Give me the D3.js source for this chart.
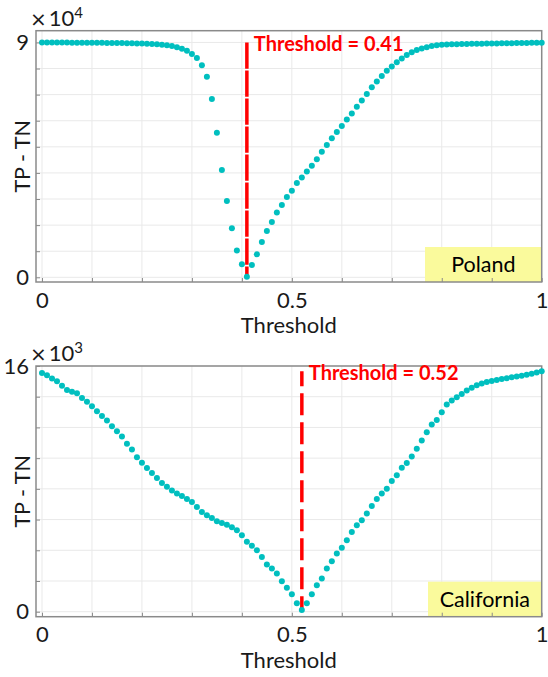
<!DOCTYPE html>
<html>
<head>
<meta charset="utf-8">
<script src="https://cdn.jsdelivr.net/npm/d3@7"></script>
<style>
  html, body { margin: 0; padding: 0; background: #ffffff; }
  svg { display: block; font-family: Lato, "Open Sans", sans-serif; }
</style>
</head>
<body>
<svg id="chart" width="548" height="677"></svg>
<script>
// Decision thresholds swept from 0 to 1 in steps of 0.01
const thresholds = d3.range(101).map(i => i / 100);

// TP - TN for Poland, in units of 10^4
const polandValues = [
  9.00, 9.00, 9.00, 9.00, 9.00, 9.00, 8.99, 8.99, 8.99, 8.99, 8.99,
  8.99, 8.99, 8.98, 8.98, 8.98, 8.98, 8.97, 8.97, 8.96, 8.96,
  8.95, 8.94, 8.93, 8.91,
  8.89, 8.86, 8.82, 8.76, 8.68, 8.56, 8.40, 8.13, 7.69, 6.83, 5.54,
  4.11, 2.92, 1.88, 1.03, 0.50, 0.02,
  0.47, 0.88, 1.35, 1.77, 2.12, 2.48, 2.77, 3.08, 3.32, 3.61, 3.82, 4.05, 4.27,
  4.52, 4.81, 5.07, 5.33, 5.57, 5.80, 6.05, 6.28, 6.54, 6.78,
  7.02, 7.28, 7.50, 7.71, 7.92, 8.08, 8.24, 8.38, 8.52, 8.62,
  8.71, 8.77, 8.82, 8.86, 8.89, 8.91,
  8.92, 8.93, 8.93, 8.94, 8.94, 8.95, 8.95, 8.95, 8.96, 8.96,
  8.96, 8.97, 8.97, 8.97, 8.98, 8.98, 8.98, 8.99, 8.99, 8.99
];

// TP - TN for California, in units of 10^3
const californiaValues = [
  15.55, 15.39, 15.19, 15.00, 14.72, 14.44, 14.33, 14.22, 13.92, 13.68,
  13.38, 13.05, 12.75, 12.45, 12.08, 11.75, 11.41, 10.94, 10.56, 10.06,
  9.70, 9.35, 9.03, 8.70, 8.38, 8.14, 7.90, 7.69, 7.53, 7.34,
  7.14, 6.82, 6.49, 6.28, 6.10, 5.89, 5.78, 5.67, 5.50, 5.31,
  4.98, 4.55, 4.29, 4.01, 3.57, 3.08, 2.82, 2.49, 1.99, 1.56,
  1.13, 0.55, 0.11,
  0.55, 1.13, 1.73, 2.17, 2.82, 3.29, 3.79, 4.16, 4.66, 5.19,
  5.63, 5.95, 6.39, 6.88, 7.34, 7.69, 8.01, 8.51, 8.88, 9.38,
  9.68, 10.11, 10.61, 11.15, 11.69, 12.19, 12.49, 12.99, 13.49,
  13.75, 13.96, 14.18, 14.40, 14.58, 14.74, 14.86, 14.95, 15.02, 15.09,
  15.15, 15.21, 15.27, 15.32, 15.37, 15.43, 15.50, 15.58, 15.66
];

// Optimal thresholds marked on each panel
const polandThreshold = 0.41;
const californiaThreshold = 0.52;

// Axis ticks
const xGridTicks = d3.range(11).map(i => i / 10);
const xLabelTicks = [0, 0.5, 1];
const polandYGrid = d3.range(10);          // 0..9 (×10^4)
const polandYLabels = [0, 9];
const californiaYGrid = d3.range(0, 17, 2); // 0..16 (×10^3)
const californiaYLabels = [0, 16];

const panels = [
  {
    region: "Poland", values: polandValues, threshold: polandThreshold,
    exponent: "4", yGrid: polandYGrid, yLabels: polandYLabels,
    yDomain: [-0.18, 9.45],
    box: { left: 36, right: 541.7, top: 30.7, bottom: 282 },
    labelW: 116.7,
    dash: "26.3,1.7", dashOffset: 0
  },
  {
    region: "California", values: californiaValues, threshold: californiaThreshold,
    exponent: "3", yGrid: californiaYGrid, yLabels: californiaYLabels,
    yDomain: [-0.325, 16],
    box: { left: 36, right: 541.7, top: 366, bottom: 616.7 },
    labelW: 113.7,
    dash: "22,7", dashOffset: 7
  }
];

const svg = d3.select("#chart");
const pointColor = "#00bfbf";
const frameColor = "#8a8a8a";
const textColor = "#1a1a1a";

function near(list, d) { return list.some(v => Math.abs(v - d) < 1e-9); }

function drawPanel(p) {
  const b = p.box;
  const x = d3.scaleLinear().domain([-0.012, 1]).range([b.left, b.right]);
  const y = d3.scaleLinear().domain(p.yDomain).range([b.bottom, b.top]);
  const g = svg.append("g");

  // background grid
  g.append("g").selectAll("line").data(xGridTicks).join("line")
    .attr("x1", d => x(d)).attr("x2", d => x(d))
    .attr("y1", b.top).attr("y2", b.bottom)
    .attr("stroke", "#e9e9e9").attr("stroke-width", 1);
  g.append("g").selectAll("line").data(p.yGrid).join("line")
    .attr("x1", b.left).attr("x2", b.right)
    .attr("y1", d => y(d)).attr("y2", d => y(d))
    .attr("stroke", "#e9e9e9").attr("stroke-width", 1);

  // region label box in the lower-right corner
  const boxH = 35;
  g.append("rect")
    .attr("x", b.right - p.labelW).attr("y", b.bottom - boxH)
    .attr("width", p.labelW).attr("height", boxH)
    .attr("fill", "#fafa9c");
  g.append("text")
    .attr("x", b.right - p.labelW / 2).attr("y", b.bottom - 10)
    .attr("text-anchor", "middle")
    .attr("font-size", 21.5).attr("fill", "#000")
    .text(p.region);

  // axes with inward ticks
  const yAxis = d3.axisLeft(y).tickValues(p.yGrid).tickSize(-4).tickPadding(7)
    .tickFormat(d => near(p.yLabels, d) ? String(d) : "");
  const yg = g.append("g").attr("transform", `translate(${b.left},0)`).call(yAxis);
  const xAxis = d3.axisBottom(x).tickValues(xGridTicks).tickSize(-4).tickPadding(10)
    .tickFormat(d => near(xLabelTicks, d) ? String(d) : "");
  const xg = g.append("g").attr("transform", `translate(0,${b.bottom})`).call(xAxis);
  [yg, xg].forEach(a => {
    a.select(".domain").remove();
    a.selectAll(".tick line").attr("stroke", frameColor);
    a.selectAll(".tick text").attr("font-size", 22).attr("fill", textColor)
      .attr("font-family", "Lato, 'Open Sans', sans-serif");
  });

  // frame
  g.append("rect")
    .attr("x", b.left).attr("y", b.top)
    .attr("width", b.right - b.left).attr("height", b.bottom - b.top)
    .attr("fill", "none").attr("stroke", frameColor).attr("stroke-width", 1.5);

  // threshold marker
  const yMax = d3.max(p.values), yMin = d3.min(p.values);
  g.append("line")
    .attr("x1", x(p.threshold)).attr("x2", x(p.threshold))
    .attr("y1", y(yMax)).attr("y2", y(yMin))
    .attr("stroke", "#ff0000").attr("stroke-width", 3.5)
    .attr("stroke-dasharray", p.dash).attr("stroke-dashoffset", p.dashOffset);

  // data points
  g.append("g").selectAll("circle").data(p.values).join("circle")
    .attr("cx", (d, i) => x(thresholds[i]))
    .attr("cy", d => y(d))
    .attr("r", 3)
    .attr("fill", pointColor);

  g.append("text")
    .attr("x", x(p.threshold) + 7).attr("y", y(yMax) + 9)
    .attr("font-size", 20).attr("font-weight", "bold").attr("fill", "#ff0000")
    .text(`Threshold = ${p.threshold.toFixed(2)}`);

  // exponent label, placed just right of the top tick label
  const ex = g.append("text")
    .attr("x", 30).attr("y", b.top - 5)
    .attr("font-size", 22).attr("fill", textColor);
  ex.append("tspan").attr("font-family", "'DejaVu Sans', sans-serif").attr("font-size", 20).text("×");
  ex.append("tspan").attr("dx", 2).text("10");
  ex.append("tspan").attr("dy", -8).attr("font-size", 15).text(p.exponent);

  // axis titles
  g.append("text")
    .attr("transform", `translate(30,${(b.top + b.bottom) / 2}) rotate(-90)`)
    .attr("text-anchor", "middle")
    .attr("font-size", 21.5).attr("fill", textColor)
    .text("TP - TN");
  g.append("text")
    .attr("x", (b.left + b.right) / 2).attr("y", b.bottom + 51)
    .attr("text-anchor", "middle")
    .attr("font-size", 22).attr("fill", textColor)
    .text("Threshold");
}

panels.forEach(drawPanel);
</script>
</body>
</html>
